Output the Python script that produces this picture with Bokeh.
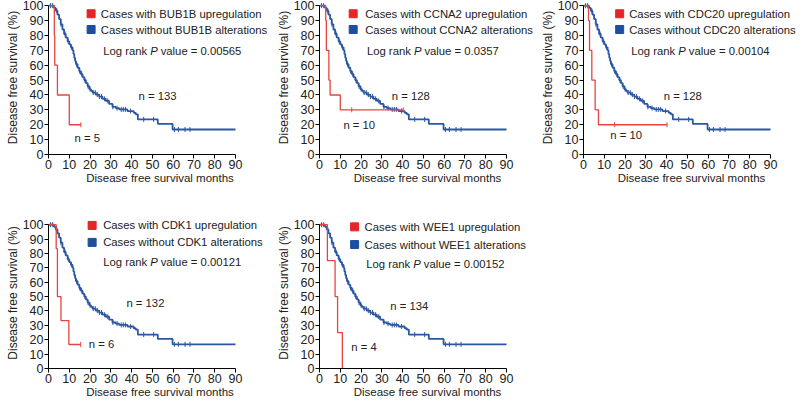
import numpy as np
from bokeh.plotting import figure
from bokeh.models import Range1d, FixedTicker, Label
from bokeh.layouts import column, row
from bokeh.embed import file_html
from bokeh.resources import INLINE

# ---------------- data ----------------
X_TICKS = [0, 10, 20, 30, 40, 50, 60, 70, 80, 90]
Y_TICKS = [0, 10, 20, 30, 40, 50, 60, 70, 80, 90, 100]

# cases without alterations (shared KM curve)
BLUE_T = [0, 2.7, 3.5, 4.3, 5.1, 5.9, 6.7, 7.5, 8.3, 9.2, 10.0, 10.8, 11.6, 12.0,
          12.4, 12.8, 13.2, 14.0, 14.8, 15.6, 16.4, 17.2, 18.0, 18.8, 19.6, 20.4,
          21.2, 22.8, 24.4, 26.0, 27.6, 29.2, 30.8, 32.4, 34.0, 38.0, 41.0, 42.0,
          43.0, 52.6, 59.7]
BLUE_S = [100, 98.5, 96.6, 94, 91, 87.5, 84, 81, 78.6, 76, 74, 72, 70, 67.5,
          65, 62.8, 60.7, 58.3, 56, 54, 52, 50, 48, 46, 44, 42.8,
          41.6, 40.2, 38.9, 37.4, 36, 34, 32, 31.2, 30.3, 29.2, 28, 27,
          23.6, 20.6, 16.8]
BLUE_END = 90
BLUE_CENSOR = [1.0, 2.0, 4.0, 6.0, 8.0, 9.5, 11.0, 13.5, 15.0, 16.0, 17.5, 19.0,
               20.0, 21.5, 22.5, 23.5, 24.5, 25.5, 27.0, 28.5, 31.0, 33.0, 35.0,
               36.0, 37.0, 39.5, 45.8, 50.6, 60.6, 62.5, 65.7, 68.1]

GENES = ["BUB1B", "CCNA2", "CDC20", "CDK1", "WEE1"]
N_UP = [5, 10, 10, 6, 4]
N_NO = [133, 128, 128, 132, 134]
P_VALUES = ["0.00565", "0.0357", "0.00104", "0.00121", "0.00152"]

BUB1B_T = [0, 2.8, 3.0, 4.3, 10.0]
BUB1B_S = [100, 80, 60, 40, 20]
BUB1B_END = 15.6
BUB1B_CENSOR = [15.6]

CCNA2_T = [0, 3.0, 3.3, 4.5, 5.1, 10.0]
CCNA2_S = [100, 90, 70, 50, 40, 30]
CCNA2_END = 40.3
CCNA2_CENSOR = [15.5, 40.3]

CDC20_T = [0, 2.4, 2.9, 4.0, 5.6, 7.2]
CDC20_S = [100, 90, 70, 50, 30, 20]
CDC20_END = 40.2
CDC20_CENSOR = [15.0, 40.2]

CDK1_T = [0, 3.7, 4.3, 6.0, 9.8]
CDK1_S = [100, 83.3, 50, 33.3, 16.7]
CDK1_END = 15.5
CDK1_CENSOR = [15.5]

WEE1_T = [0, 3.8, 7.5, 8.7, 11.0]
WEE1_S = [100, 75, 50, 25, 0]
WEE1_END = 11.0
WEE1_CENSOR = []

RED_T = [BUB1B_T, CCNA2_T, CDC20_T, CDK1_T, WEE1_T]
RED_S = [BUB1B_S, CCNA2_S, CDC20_S, CDK1_S, WEE1_S]
RED_END = [BUB1B_END, CCNA2_END, CDC20_END, CDK1_END, WEE1_END]
RED_CENSOR = [BUB1B_CENSOR, CCNA2_CENSOR, CDC20_CENSOR, CDK1_CENSOR, WEE1_CENSOR]

# ---------------- layout / style ----------------
FONT = "Liberation Sans"
RED_LINE, RED_BOX = "#E8443F", "#E52528"
BLUE_LINE, BLUE_BOX = "#2A57A2", "#1F4E9F"
LEFT = 48
PX_PER_UNIT = 2.078

# (width, height, top border, bottom border, y top) per panel
SIZES = [(271, 189, 0, 35, 103.5), (264, 189, 0, 35, 103.5), (264, 189, 0, 35, 103.5),
         (271, 214, 28, 35, 105), (264, 214, 28, 35, 105)]
# text positions in data units
POS = [
    dict(sq=20.5, tx=25.2, y1=94.6, y2=84.0, lx=26.3, ly=69.8, nn=(43.3, 39.6), nu=(12.5, 11.4)),
    dict(sq=16.2, tx=22.0, y1=94.6, y2=84.0, lx=22.8, ly=69.8, nn=(34.8, 39.6), nu=(11.5, 19.5)),
    dict(sq=17.4, tx=22.0, y1=94.6, y2=84.0, lx=23.0, ly=69.8, nn=(38.6, 39.6), nu=(12.9, 12.8)),
    dict(sq=21.0, tx=26.3, y1=99.5, y2=87.7, lx=26.3, ly=74.3, nn=(37.5, 45.6), nu=(19.4, 17.2)),
    dict(sq=16.9, tx=21.7, y1=98.5, y2=86.2, lx=22.5, ly=72.8, nn=(34.1, 43.8), nu=(15.3, 15.2)),
]
TEXT_SIZE = "11.3px"


def km_at(t, s, times):
    idx = np.searchsorted(np.array(t), np.array(times, dtype=float), side="right") - 1
    return [s[i] for i in idx]


def txt(p, x, y, text, style="normal", x_offset=0):
    p.add_layout(Label(x=x, y=y, text=text, text_font=FONT, text_font_size=TEXT_SIZE,
                       text_font_style=style, text_color="#222222",
                       text_baseline="middle", text_align="left", x_offset=x_offset))


def panel(i):
    width, height, top, bottom, ytop = SIZES[i]
    pos = POS[i]
    xmax = (width - LEFT) / PX_PER_UNIT
    p = figure(width=width, height=height, x_range=Range1d(0, xmax), y_range=Range1d(0, ytop),
               output_backend="svg", toolbar_location=None,
               min_border_left=LEFT, min_border_right=0, min_border_top=top,
               min_border_bottom=bottom)
    p.outline_line_color = None
    p.grid.visible = False
    p.background_fill_color = "white"
    p.border_fill_color = "white"

    for ax in (p.xaxis, p.yaxis):
        ax.axis_line_color = "black"
        ax.major_tick_line_color = "black"
        ax.major_tick_in = 0
        ax.major_tick_out = 4
        ax.minor_tick_line_color = None
        ax.major_label_text_font = FONT
        ax.major_label_text_font_size = "12.5px"
        ax.major_label_text_color = "#222222"
        ax.major_label_standoff = 1
        ax.axis_label_text_font = FONT
        ax.axis_label_text_font_style = "normal"
        ax.axis_label_text_color = "#222222"
        ax.axis_label_standoff = 0
    p.xaxis.ticker = FixedTicker(ticks=X_TICKS)
    p.yaxis.ticker = FixedTicker(ticks=Y_TICKS)
    p.xaxis.bounds = (X_TICKS[0], X_TICKS[-1])
    p.yaxis.bounds = (Y_TICKS[0], Y_TICKS[-1])
    p.xaxis.axis_label = "Disease free survival months"
    p.xaxis.axis_label_text_font_size = "11.5px"
    p.yaxis.axis_label = "Disease free survival (%)"
    p.yaxis.axis_label_text_font_size = "12px"

    # blue curve
    p.step(BLUE_T + [BLUE_END], BLUE_S + [BLUE_S[-1]], mode="after",
           line_color=BLUE_LINE, line_width=1.8)
    p.scatter(BLUE_CENSOR, km_at(BLUE_T, BLUE_S, BLUE_CENSOR), marker="dash",
              angle=np.pi / 2, size=5, line_color=BLUE_LINE, line_width=1)

    # red curve
    t, s, end, cen = RED_T[i], RED_S[i], RED_END[i], RED_CENSOR[i]
    xs = t + ([end] if end > t[-1] else [])
    ys = s + ([s[-1]] if end > t[-1] else [])
    p.step(xs, ys, mode="after", line_color=RED_LINE, line_width=1.3)
    if cen:
        p.scatter(cen, km_at(t, s, cen), marker="dash", angle=np.pi / 2, size=5,
                  line_color=RED_LINE, line_width=1)

    # legend
    p.scatter([pos["sq"]], [pos["y1"]], marker="square", size=8, fill_color=RED_BOX,
              line_color=RED_BOX)
    p.scatter([pos["sq"]], [pos["y2"]], marker="square", size=8, fill_color=BLUE_BOX,
              line_color=BLUE_BOX)
    g = GENES[i]
    txt(p, pos["tx"], pos["y1"], f"Cases with {g} upregulation")
    txt(p, pos["tx"], pos["y2"], f"Cases without {g} alterations")
    txt(p, pos["lx"], pos["ly"], "Log rank")
    txt(p, pos["lx"], pos["ly"], "P", style="italic", x_offset=47)
    txt(p, pos["lx"], pos["ly"], f"value = {P_VALUES[i]}", x_offset=57.5)
    txt(p, pos["nn"][0], pos["nn"][1], f"n = {N_NO[i]}")
    txt(p, pos["nu"][0], pos["nu"][1], f"n = {N_UP[i]}")
    return p


panels = [panel(i) for i in range(5)]
layout = column(row(panels[0], panels[1], panels[2], spacing=0),
                row(panels[3], panels[4], spacing=0), spacing=0)

open("out.html", "w").write(file_html(layout, INLINE))
